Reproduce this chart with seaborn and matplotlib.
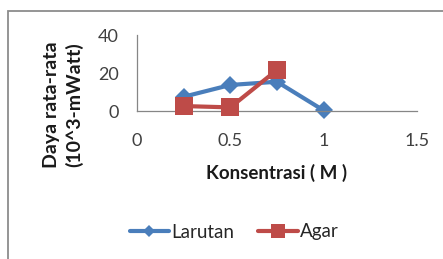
import matplotlib
matplotlib.use('Agg')
import matplotlib.pyplot as plt
import seaborn as sns
import pandas as pd
from matplotlib.lines import Line2D
from matplotlib.patches import Rectangle

# data
konsentrasi_larutan = [0.25, 0.5, 0.75, 1.0]
daya_larutan = [7.5, 13.7, 15.4, 0.3]
konsentrasi_agar = [0.25, 0.5, 0.75]
daya_agar = [2.6, 1.9, 21.6]
seri = ['Larutan', 'Agar']
x_ticks = [0, 0.5, 1, 1.5]
x_tick_labels = ['0', '0.5', '1', '1.5']
y_ticks = [0, 20, 40]

df = pd.concat([
    pd.DataFrame({'x': konsentrasi_larutan, 'y': daya_larutan, 'seri': 'Larutan'}),
    pd.DataFrame({'x': konsentrasi_agar, 'y': daya_agar, 'seri': 'Agar'}),
])

sns.set_style('white')
plt.rcParams['font.family'] = ['Lato', 'DejaVu Sans']

W, H = 443, 259
fig = plt.figure(figsize=(W / 100, H / 100), dpi=100)
ax = fig.add_axes([137 / W, 1 - 111 / H, (417 - 137) / W, (111 - 35) / H])

palette = {'Larutan': '#4a7ebb', 'Agar': '#be4b48'}
markers = {'Larutan': 'D', 'Agar': 's'}
sns.lineplot(data=df, x='x', y='y', hue='seri', style='seri', palette=palette,
             markers=markers, dashes=False, linewidth=3, markersize=13,
             markeredgewidth=0, ax=ax, legend=False, clip_on=False)
for line in ax.lines:
    if line.get_marker() == 'D':
        line.set_markersize(9)
        line.set_zorder(2)
    else:
        line.set_zorder(3)

ax.set_xlim(0, 1.5)
ax.set_ylim(0, 40)
ax.set_xticks(x_ticks)
ax.set_xticklabels(x_tick_labels)
ax.set_yticks(y_ticks)
for s in ['top', 'right']:
    ax.spines[s].set_visible(False)
for s in ['left', 'bottom']:
    ax.spines[s].set_color('#868686')
    ax.spines[s].set_linewidth(0.9)
ax.tick_params(axis='x', length=5, width=0.9, color='#868686', direction='out',
               pad=11, labelsize=13, labelcolor='#404040')
ax.tick_params(axis='y', length=5, width=0.9, color='#868686', direction='out',
               pad=8, labelsize=13, labelcolor='#404040')
ax.set_xlabel('')
ax.set_ylabel('')

fig.text(277 / W, 1 - 173 / H, 'Konsentrasi ( M )', ha='center', va='center',
         fontsize=13.5, fontweight='bold', color='#1a1a1a')
fig.text(63 / W, 1 - 105 / H, 'Daya rata-rata\n(10^3-mWatt)', ha='center', va='center',
         rotation=90, fontsize=14, fontweight='bold', color='#1a1a1a',
         linespacing=1.35, multialignment='center')

handles = [Line2D([], [], color=palette[k], marker=markers[k], lw=3,
                  markersize=6 if k == 'Larutan' else 9.5, markeredgewidth=0)
           for k in seri]
fig.legend(handles, seri, loc='center', bbox_to_anchor=(234 / W, 1 - 232 / H),
           ncol=2, frameon=False, fontsize=13.5, handlelength=2.1, columnspacing=1.3,
           handletextpad=0.1, labelcolor='#262626')

# outer chart border
fig.patches.append(Rectangle((8 / W, -0.05), 1.0, 1 - 10.5 / H + 0.05,
                             transform=fig.transFigure, fill=False,
                             edgecolor='#8c8c8c', lw=1.3))

fig.savefig('out.png', dpi=100)
